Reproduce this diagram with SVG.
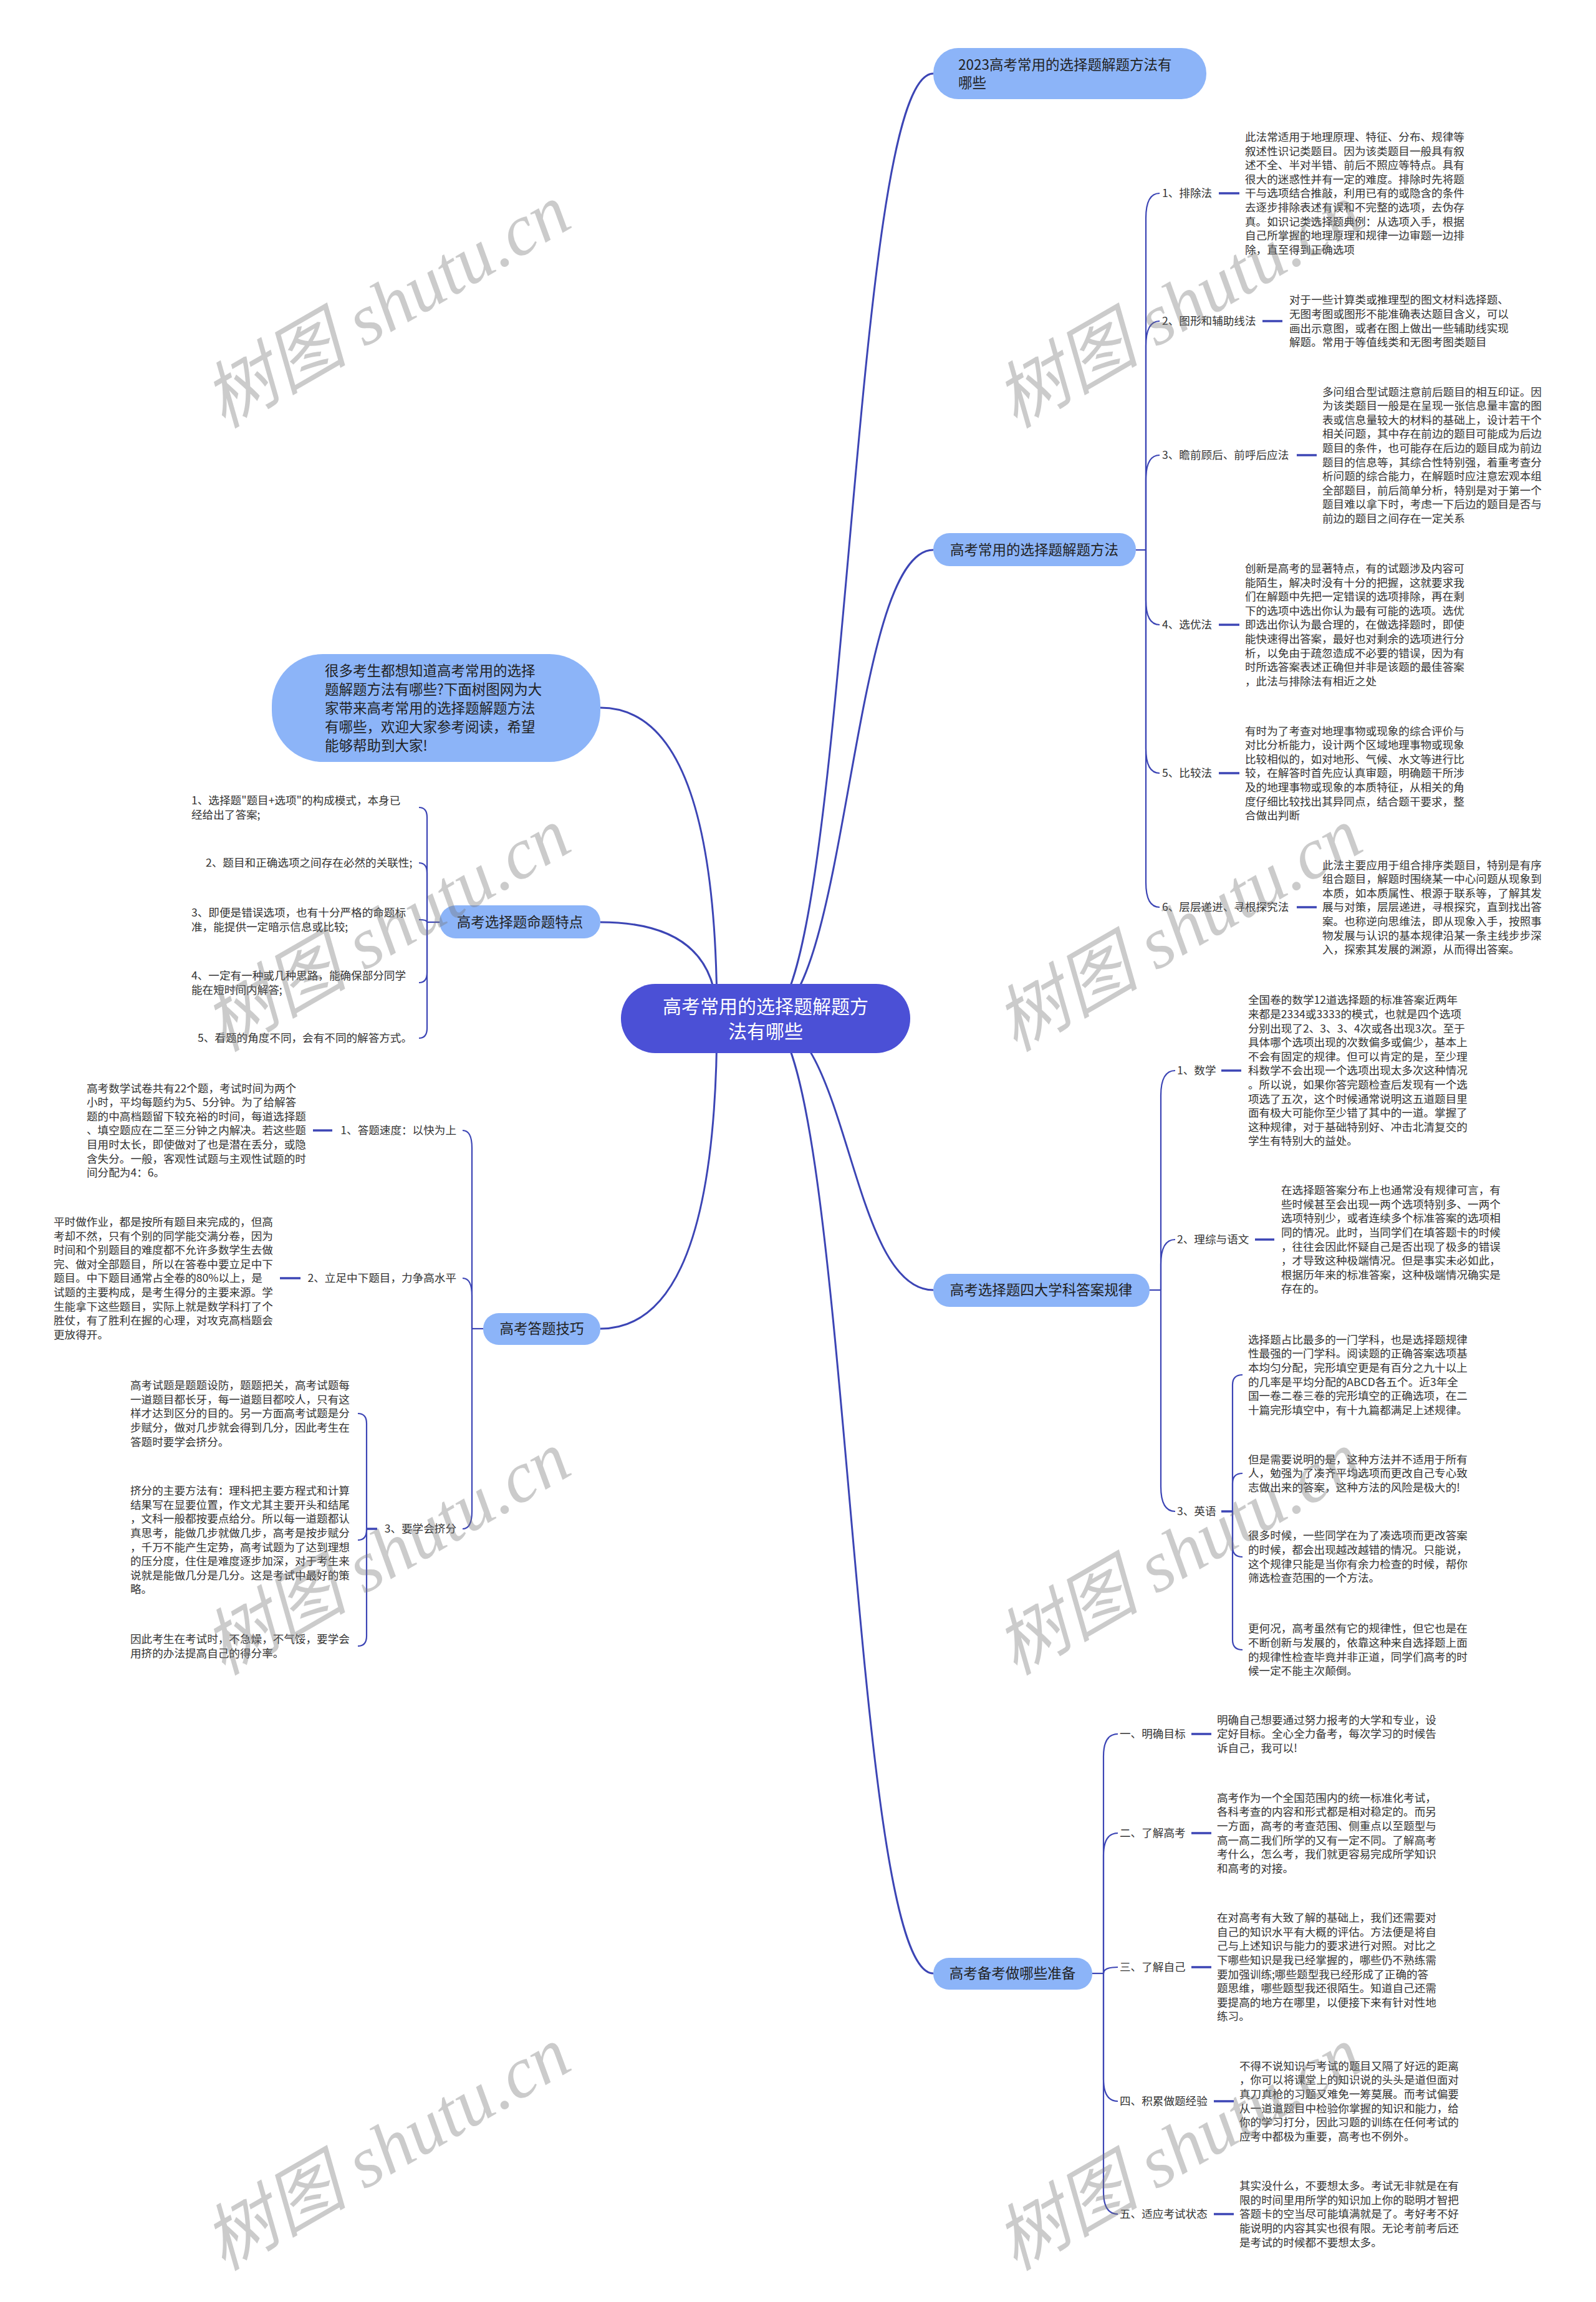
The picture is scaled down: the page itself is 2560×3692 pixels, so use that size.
<svg xmlns="http://www.w3.org/2000/svg" width="2560" height="3692" viewBox="0 0 2560 3692">
<style>
text{font-family:"Noto Sans CJK SC","Noto Sans",sans-serif}
.p{font-size:17.6px;fill:#333}
.l1{font-size:22.5px;fill:#222}
.c{font-size:30px;fill:#fff}
.n1{fill:#8cb4f8}
.m{fill:none;stroke:#3c45b5;stroke-width:3}
.s{fill:none;stroke:#3c45b5;stroke-width:2.2}
.d{fill:none;stroke:#3c45b5;stroke-width:3.6}
.wm{font-family:"Liberation Serif","Noto Sans CJK SC",serif;font-style:italic;font-size:116px;fill:#777;fill-opacity:.38}
</style>
<rect width="2560" height="3692" fill="#fff"/>
<g id="connectors">
<path class="m" d="M1228,1633 C1362,1633 1362,118 1497,118"/>
<path class="m" d="M1228,1633 C1362,1633 1362,882 1497,882"/>
<path class="m" d="M1228,1633 C1362,1633 1362,2069 1497,2069"/>
<path class="m" d="M1228,1633 C1362,1633 1362,3165 1497,3165"/>
<path class="m" d="M963,1135 Q1150,1135 1150,1633"/>
<path class="m" d="M963,1479 Q1150,1479 1150,1633"/>
<path class="m" d="M963,2131 Q1150,2131 1150,1633"/>
<path class="s" d="M1822,882 H1838"/>
<path class="s" d="M1838,882 V350 Q1838,310 1860,310"/>
<path class="s" d="M1838,882 V555 Q1838,515 1860,515"/>
<path class="s" d="M1838,882 V770 Q1838,730 1860,730"/>
<path class="s" d="M1838,882 V962 Q1838,1002 1860,1002"/>
<path class="s" d="M1838,882 V1200 Q1838,1240 1860,1240"/>
<path class="s" d="M1838,882 V1415 Q1838,1455 1860,1455"/>
<path class="s" d="M1844,2069 H1862"/>
<path class="s" d="M1862,2069 V1757 Q1862,1717 1885,1717"/>
<path class="s" d="M1862,2069 V2028 Q1862,1988 1885,1988"/>
<path class="s" d="M1862,2069 V2384 Q1862,2424 1885,2424"/>
<path class="s" d="M1977,2424 V2221 Q1977,2205 1993,2205"/>
<path class="s" d="M1977,2424 V2379 Q1977,2363 1993,2363"/>
<path class="s" d="M1977,2424 V2481 Q1977,2497 1993,2497"/>
<path class="s" d="M1977,2424 V2630 Q1977,2646 1993,2646"/>
<path class="s" d="M1752,3165 H1770"/>
<path class="s" d="M1770,3165 V2817 Q1770,2781 1793,2781"/>
<path class="s" d="M1770,3165 V2976 Q1770,2940 1793,2940"/>
<path class="s" d="M1770,3165 Q1770,3155 1793,3155"/>
<path class="s" d="M1770,3165 V3334 Q1770,3370 1793,3370"/>
<path class="s" d="M1770,3165 V3515 Q1770,3551 1793,3551"/>
<path class="s" d="M705,1479 H685"/>
<path class="s" d="M685,1479 V1311 Q685,1295 672,1295"/>
<path class="s" d="M685,1479 V1400 Q685,1384 672,1384"/>
<path class="s" d="M685,1479 Q685,1475 672,1475"/>
<path class="s" d="M685,1479 V1560 Q685,1576 672,1576"/>
<path class="s" d="M685,1479 V1649 Q685,1665 672,1665"/>
<path class="s" d="M775,2131 H757"/>
<path class="s" d="M757,2131 V1841 Q757,1813 742,1813"/>
<path class="s" d="M757,2131 V2078 Q757,2050 742,2050"/>
<path class="s" d="M757,2131 V2424 Q757,2452 742,2452"/>
<path class="s" d="M588,2452 V2283 Q588,2267 574,2267"/>
<path class="s" d="M588,2452 V2454 Q588,2470 574,2470"/>
<path class="s" d="M588,2452 V2624 Q588,2640 574,2640"/>
<path class="d" d="M1955,310 H1988 M2025,515 H2057 M2080,730 H2112 M1955,1002 H1988 M1955,1240 H1988 M2080,1455 H2112 M1959,1717 H1991 M2013,1988 H2044 M1959,2424 H1977 M1911,2781 H1943 M1911,2940 H1943 M1911,3155 H1943 M1947,3370 H1979 M1947,3551 H1979 M502,1813 H533 M449,2050 H482 M605,2452 H588"/>
</g>
<g id="node-center">
<rect x="996" y="1578" width="464" height="111" rx="55" fill="#4b50d6"/>
<text class="c" text-anchor="middle"><tspan x="1228" y="1624.5">高考常用的选择题解题方</tspan><tspan x="1228" y="1664.5">法有哪些</tspan></text>
</g>
<g id="node-2023">
<rect class="n1" x="1497" y="77" width="438" height="82" rx="40"/>
<text class="l1"><tspan x="1537" y="112">2023高考常用的选择题解题方法有</tspan><tspan x="1537" y="141">哪些</tspan></text>
</g>
<g id="node-methods">
<rect class="n1" x="1497" y="855" width="325" height="53" rx="26"/>
<text class="l1" x="1659" y="890" text-anchor="middle">高考常用的选择题解题方法</text>
</g>
<g id="node-subjects">
<rect class="n1" x="1497" y="2043" width="347" height="53" rx="26"/>
<text class="l1" x="1670" y="2077" text-anchor="middle">高考选择题四大学科答案规律</text>
</g>
<g id="node-prepare">
<rect class="n1" x="1497" y="3140" width="255" height="51" rx="25"/>
<text class="l1" x="1624" y="3173" text-anchor="middle">高考备考做哪些准备</text>
</g>
<g id="node-intro">
<rect class="n1" x="436" y="1049" width="527" height="173" rx="82"/>
<text class="l1"><tspan x="521" y="1083.5">很多考生都想知道高考常用的选择</tspan><tspan x="521" y="1113.5">题解题方法有哪些?下面树图网为大</tspan><tspan x="521" y="1143.5">家带来高考常用的选择题解题方法</tspan><tspan x="521" y="1173.5">有哪些，欢迎大家参考阅读，希望</tspan><tspan x="521" y="1203.5">能够帮助到大家!</tspan></text>
</g>
<g id="node-features">
<rect class="n1" x="705" y="1452" width="258" height="53" rx="26"/>
<text class="l1" x="834" y="1487" text-anchor="middle">高考选择题命题特点</text>
</g>
<g id="node-skills">
<rect class="n1" x="775" y="2106" width="188" height="51" rx="25"/>
<text class="l1" x="869" y="2139" text-anchor="middle">高考答题技巧</text>
</g>
<g id="m1">
<text class="p" x="1864" y="316">1、排除法</text>
<text class="p"><tspan x="1997" y="225.9">此法常适用于地理原理、特征、分布、规律等</tspan><tspan x="1997" y="248.5">叙述性识记类题目。因为该类题目一般具有叙</tspan><tspan x="1997" y="271.1">述不全、半对半错、前后不照应等特点。具有</tspan><tspan x="1997" y="293.7">很大的迷惑性并有一定的难度。排除时先将题</tspan><tspan x="1997" y="316.3">干与选项结合推敲，利用已有的或隐含的条件</tspan><tspan x="1997" y="338.9">去逐步排除表述有误和不完整的选项，去伪存</tspan><tspan x="1997" y="361.5">真。如识记类选择题典例：从选项入手，根据</tspan><tspan x="1997" y="384.1">自己所掌握的地理原理和规律一边审题一边排</tspan><tspan x="1997" y="406.7">除，直至得到正确选项</tspan></text>
</g>
<g id="m2">
<text class="p" x="1864" y="521">2、图形和辅助线法</text>
<text class="p"><tspan x="2068" y="487.4">对于一些计算类或推理型的图文材料选择题、</tspan><tspan x="2068" y="510">无图考图或图形不能准确表达题目含义，可以</tspan><tspan x="2068" y="532.6">画出示意图，或者在图上做出一些辅助线实现</tspan><tspan x="2068" y="555.2">解题。常用于等值线类和无图考图类题目</tspan></text>
</g>
<g id="m3">
<text class="p" x="1864" y="736">3、瞻前顾后、前呼后应法</text>
<text class="p"><tspan x="2121" y="634.6">多问组合型试题注意前后题目的相互印证。因</tspan><tspan x="2121" y="657.2">为该类题目一般是在呈现一张信息量丰富的图</tspan><tspan x="2121" y="679.8">表或信息量较大的材料的基础上，设计若干个</tspan><tspan x="2121" y="702.4">相关问题，其中存在前边的题目可能成为后边</tspan><tspan x="2121" y="725">题目的条件，也可能存在后边的题目成为前边</tspan><tspan x="2121" y="747.6">题目的信息等，其综合性特别强，着重考查分</tspan><tspan x="2121" y="770.2">析问题的综合能力，在解题时应注意宏观本组</tspan><tspan x="2121" y="792.8">全部题目，前后简单分析，特别是对于第一个</tspan><tspan x="2121" y="815.4">题目难以拿下时，考虑一下后边的题目是否与</tspan><tspan x="2121" y="838">前边的题目之间存在一定关系</tspan></text>
</g>
<g id="m4">
<text class="p" x="1864" y="1008">4、选优法</text>
<text class="p"><tspan x="1997" y="917.9">创新是高考的显著特点，有的试题涉及内容可</tspan><tspan x="1997" y="940.5">能陌生，解决时没有十分的把握，这就要求我</tspan><tspan x="1997" y="963.1">们在解题中先把一定错误的选项排除，再在剩</tspan><tspan x="1997" y="985.7">下的选项中选出你认为最有可能的选项。选优</tspan><tspan x="1997" y="1008.3">即选出你认为最合理的，在做选择题时，即使</tspan><tspan x="1997" y="1030.9">能快速得出答案，最好也对剩余的选项进行分</tspan><tspan x="1997" y="1053.5">析，以免由于疏忽造成不必要的错误，因为有</tspan><tspan x="1997" y="1076.1">时所选答案表述正确但并非是该题的最佳答案</tspan><tspan x="1997" y="1098.7">，此法与排除法有相近之处</tspan></text>
</g>
<g id="m5">
<text class="p" x="1864" y="1246">5、比较法</text>
<text class="p"><tspan x="1997" y="1178.5">有时为了考查对地理事物或现象的综合评价与</tspan><tspan x="1997" y="1201.1">对比分析能力，设计两个区域地理事物或现象</tspan><tspan x="1997" y="1223.7">比较相似的，如对地形、气候、水文等进行比</tspan><tspan x="1997" y="1246.3">较，在解答时首先应认真审题，明确题干所涉</tspan><tspan x="1997" y="1268.9">及的地理事物或现象的本质特征，从相关的角</tspan><tspan x="1997" y="1291.5">度仔细比较找出其异同点，结合题干要求，整</tspan><tspan x="1997" y="1314.1">合做出判断</tspan></text>
</g>
<g id="m6">
<text class="p" x="1864" y="1461">6、层层递进、寻根探究法</text>
<text class="p"><tspan x="2121" y="1393.5">此法主要应用于组合排序类题目，特别是有序</tspan><tspan x="2121" y="1416.1">组合题目，解题时围绕某一中心问题从现象到</tspan><tspan x="2121" y="1438.7">本质，如本质属性、根源于联系等，了解其发</tspan><tspan x="2121" y="1461.3">展与对策，层层递进，寻根探究，直到找出答</tspan><tspan x="2121" y="1483.9">案。也称逆向思维法，即从现象入手，按照事</tspan><tspan x="2121" y="1506.5">物发展与认识的基本规律沿某一条主线步步深</tspan><tspan x="2121" y="1529.1">入，探索其发展的渊源，从而得出答案。</tspan></text>
</g>
<g id="s1">
<text class="p" x="1888" y="1723">1、数学</text>
<text class="p"><tspan x="2002" y="1610.3">全国卷的数学12道选择题的标准答案近两年</tspan><tspan x="2002" y="1632.9">来都是2334或3333的模式，也就是四个选项</tspan><tspan x="2002" y="1655.5">分别出现了2、3、3、4次或各出现3次。至于</tspan><tspan x="2002" y="1678.1">具体哪个选项出现的次数偏多或偏少，基本上</tspan><tspan x="2002" y="1700.7">不会有固定的规律。但可以肯定的是，至少理</tspan><tspan x="2002" y="1723.3">科数学不会出现一个选项出现太多次这种情况</tspan><tspan x="2002" y="1745.9">。所以说，如果你答完题检查后发现有一个选</tspan><tspan x="2002" y="1768.5">项选了五次，这个时候通常说明这五道题目里</tspan><tspan x="2002" y="1791.1">面有极大可能你至少错了其中的一道。掌握了</tspan><tspan x="2002" y="1813.7">这种规律，对于基础特别好、冲击北清复交的</tspan><tspan x="2002" y="1836.3">学生有特别大的益处。</tspan></text>
</g>
<g id="s2">
<text class="p" x="1888" y="1994">2、理综与语文</text>
<text class="p"><tspan x="2055" y="1915.2">在选择题答案分布上也通常没有规律可言，有</tspan><tspan x="2055" y="1937.8">些时候甚至会出现一两个选项特别多、一两个</tspan><tspan x="2055" y="1960.4">选项特别少，或者连续多个标准答案的选项相</tspan><tspan x="2055" y="1983">同的情况。此时，当同学们在填答题卡的时候</tspan><tspan x="2055" y="2005.6">，往往会因此怀疑自己是否出现了极多的错误</tspan><tspan x="2055" y="2028.2">，才导致这种极端情况。但是事实未必如此，</tspan><tspan x="2055" y="2050.8">根据历年来的标准答案，这种极端情况确实是</tspan><tspan x="2055" y="2073.4">存在的。</tspan></text>
</g>
<g id="s3">
<text class="p" x="1888" y="2430">3、英语</text>
<text class="p"><tspan x="2002" y="2154.8">选择题占比最多的一门学科，也是选择题规律</tspan><tspan x="2002" y="2177.4">性最强的一门学科。阅读题的正确答案选项基</tspan><tspan x="2002" y="2200">本均匀分配，完形填空更是有百分之九十以上</tspan><tspan x="2002" y="2222.6">的几率是平均分配的ABCD各五个。近3年全</tspan><tspan x="2002" y="2245.2">国一卷二卷三卷的完形填空的正确选项，在二</tspan><tspan x="2002" y="2267.8">十篇完形填空中，有十九篇都满足上述规律。</tspan></text>
<text class="p"><tspan x="2002" y="2346.7">但是需要说明的是，这种方法并不适用于所有</tspan><tspan x="2002" y="2369.3">人，勉强为了凑齐平均选项而更改自己专心致</tspan><tspan x="2002" y="2391.9">志做出来的答案，这种方法的风险是极大的!</tspan></text>
<text class="p"><tspan x="2002" y="2469.4">很多时候，一些同学在为了凑选项而更改答案</tspan><tspan x="2002" y="2492">的时候，都会出现越改越错的情况。只能说，</tspan><tspan x="2002" y="2514.6">这个规律只能是当你有余力检查的时候，帮你</tspan><tspan x="2002" y="2537.2">筛选检查范围的一个方法。</tspan></text>
<text class="p"><tspan x="2002" y="2618.4">更何况，高考虽然有它的规律性，但它也是在</tspan><tspan x="2002" y="2641">不断创新与发展的，依靠这种来自选择题上面</tspan><tspan x="2002" y="2663.6">的规律性检查毕竟并非正道，同学们高考的时</tspan><tspan x="2002" y="2686.2">候一定不能主次颠倒。</tspan></text>
</g>
<g id="b1">
<text class="p" x="1796" y="2787">一、明确目标</text>
<text class="p"><tspan x="1952" y="2764.7">明确自己想要通过努力报考的大学和专业，设</tspan><tspan x="1952" y="2787.3">定好目标。全心全力备考，每次学习的时候告</tspan><tspan x="1952" y="2809.9">诉自己，我可以!</tspan></text>
</g>
<g id="b2">
<text class="p" x="1796" y="2946">二、了解高考</text>
<text class="p"><tspan x="1952" y="2889.8">高考作为一个全国范围内的统一标准化考试，</tspan><tspan x="1952" y="2912.4">各科考查的内容和形式都是相对稳定的。而另</tspan><tspan x="1952" y="2935">一方面，高考的考查范围、侧重点以至题型与</tspan><tspan x="1952" y="2957.6">高一高二我们所学的又有一定不同。了解高考</tspan><tspan x="1952" y="2980.2">考什么，怎么考，我们就更容易完成所学知识</tspan><tspan x="1952" y="3002.8">和高考的对接。</tspan></text>
</g>
<g id="b3">
<text class="p" x="1796" y="3161">三、了解自己</text>
<text class="p"><tspan x="1952" y="3082.2">在对高考有大致了解的基础上，我们还需要对</tspan><tspan x="1952" y="3104.8">自己的知识水平有大概的评估。方法便是将自</tspan><tspan x="1952" y="3127.4">己与上述知识与能力的要求进行对照。对比之</tspan><tspan x="1952" y="3150">下哪些知识是我已经掌握的，哪些仍不熟练需</tspan><tspan x="1952" y="3172.6">要加强训练;哪些题型我已经形成了正确的答</tspan><tspan x="1952" y="3195.2">题思维，哪些题型我还很陌生。知道自己还需</tspan><tspan x="1952" y="3217.8">要提高的地方在哪里，以便接下来有针对性地</tspan><tspan x="1952" y="3240.4">练习。</tspan></text>
</g>
<g id="b4">
<text class="p" x="1796" y="3376">四、积累做题经验</text>
<text class="p"><tspan x="1988" y="3319.8">不得不说知识与考试的题目又隔了好远的距离</tspan><tspan x="1988" y="3342.4">，你可以将课堂上的知识说的头头是道但面对</tspan><tspan x="1988" y="3365">真刀真枪的习题又难免一筹莫展。而考试偏要</tspan><tspan x="1988" y="3387.6">从一道道题目中检验你掌握的知识和能力，给</tspan><tspan x="1988" y="3410.2">你的学习打分，因此习题的训练在任何考试的</tspan><tspan x="1988" y="3432.8">应考中都极为重要，高考也不例外。</tspan></text>
</g>
<g id="b5">
<text class="p" x="1796" y="3557">五、适应考试状态</text>
<text class="p"><tspan x="1988" y="3512.1">其实没什么，不要想太多。考试无非就是在有</tspan><tspan x="1988" y="3534.7">限的时间里用所学的知识加上你的聪明才智把</tspan><tspan x="1988" y="3557.3">答题卡的空当尽可能填满就是了。考好考不好</tspan><tspan x="1988" y="3579.9">能说明的内容其实也很有限。无论考前考后还</tspan><tspan x="1988" y="3602.5">是考试的时候都不要想太多。</tspan></text>
</g>
<g id="f1"><text class="p"><tspan x="307" y="1290">1、选择题"题目+选项"的构成模式，本身已</tspan><tspan x="307" y="1312.6">经给出了答案;</tspan></text></g>
<g id="f2"><text class="p" x="330" y="1390.3">2、题目和正确选项之间存在必然的关联性;</text></g>
<g id="f3"><text class="p"><tspan x="307" y="1470">3、即便是错误选项，也有十分严格的命题标</tspan><tspan x="307" y="1492.6">准，能提供一定暗示信息或比较;</tspan></text></g>
<g id="f4"><text class="p"><tspan x="307" y="1571">4、一定有一种或几种思路，能确保部分同学</tspan><tspan x="307" y="1593.6">能在短时间内解答;</tspan></text></g>
<g id="f5"><text class="p" x="317" y="1671.3">5、看题的角度不同，会有不同的解答方式。</text></g>
<g id="k1">
<text class="p" x="732" y="1819" text-anchor="end">1、答题速度：以快为上</text>
<text class="p"><tspan x="139" y="1751.5">高考数学试卷共有22个题，考试时间为两个</tspan><tspan x="139" y="1774.1">小时，平均每题约为5、5分钟。为了给解答</tspan><tspan x="139" y="1796.7">题的中高档题留下较充裕的时间，每道选择题</tspan><tspan x="139" y="1819.3">、填空题应在二至三分钟之内解决。若这些题</tspan><tspan x="139" y="1841.9">目用时太长，即使做对了也是潜在丢分，或隐</tspan><tspan x="139" y="1864.5">含失分。一般，客观性试题与主观性试题的时</tspan><tspan x="139" y="1887.1">间分配为4：6。</tspan></text>
</g>
<g id="k2">
<text class="p" x="732" y="2056" text-anchor="end">2、立足中下题目，力争高水平</text>
<text class="p"><tspan x="86" y="1965.9">平时做作业，都是按所有题目来完成的，但高</tspan><tspan x="86" y="1988.5">考却不然，只有个别的同学能交满分卷，因为</tspan><tspan x="86" y="2011.1">时间和个别题目的难度都不允许多数学生去做</tspan><tspan x="86" y="2033.7">完、做对全部题目，所以在答卷中要立足中下</tspan><tspan x="86" y="2056.3">题目。中下题目通常占全卷的80%以上，是</tspan><tspan x="86" y="2078.9">试题的主要构成，是考生得分的主要来源。学</tspan><tspan x="86" y="2101.5">生能拿下这些题目，实际上就是数学科打了个</tspan><tspan x="86" y="2124.1">胜仗，有了胜利在握的心理，对攻克高档题会</tspan><tspan x="86" y="2146.7">更放得开。</tspan></text>
</g>
<g id="k3">
<text class="p" x="732" y="2458" text-anchor="end">3、要学会挤分</text>
<text class="p"><tspan x="209" y="2228.1">高考试题是题题设防，题题把关，高考试题每</tspan><tspan x="209" y="2250.7">一道题目都长牙，每一道题目都咬人，只有这</tspan><tspan x="209" y="2273.3">样才达到区分的目的。另一方面高考试题是分</tspan><tspan x="209" y="2295.9">步赋分，做对几步就会得到几分，因此考生在</tspan><tspan x="209" y="2318.5">答题时要学会挤分。</tspan></text>
<text class="p"><tspan x="209" y="2397.2">挤分的主要方法有：理科把主要方程式和计算</tspan><tspan x="209" y="2419.8">结果写在显要位置，作文尤其主要开头和结尾</tspan><tspan x="209" y="2442.4">，文科一般都按要点给分。所以每一道题都认</tspan><tspan x="209" y="2465">真思考，能做几步就做几步，高考是按步赋分</tspan><tspan x="209" y="2487.6">，千万不能产生定势，高考试题为了达到理想</tspan><tspan x="209" y="2510.2">的压分度，住住是难度逐步加深，对于考生来</tspan><tspan x="209" y="2532.8">说就是能做几分是几分。这是考试中最好的策</tspan><tspan x="209" y="2555.4">略。</tspan></text>
<text class="p"><tspan x="209" y="2635">因此考生在考试时，不急燥，不气馁，要学会</tspan><tspan x="209" y="2657.6">用挤的办法提高自己的得分率。</tspan></text>
</g>
<g id="watermarks">
<text class="wm" text-anchor="middle" transform="translate(640,525) rotate(-30)">树图 shutu.cn</text>
<text class="wm" text-anchor="middle" transform="translate(1910,525) rotate(-30)">树图 shutu.cn</text>
<text class="wm" text-anchor="middle" transform="translate(640,1525) rotate(-30)">树图 shutu.cn</text>
<text class="wm" text-anchor="middle" transform="translate(1910,1525) rotate(-30)">树图 shutu.cn</text>
<text class="wm" text-anchor="middle" transform="translate(640,2525) rotate(-30)">树图 shutu.cn</text>
<text class="wm" text-anchor="middle" transform="translate(1910,2525) rotate(-30)">树图 shutu.cn</text>
<text class="wm" text-anchor="middle" transform="translate(640,3480) rotate(-30)">树图 shutu.cn</text>
<text class="wm" text-anchor="middle" transform="translate(1910,3480) rotate(-30)">树图 shutu.cn</text>
</g>
</svg>
